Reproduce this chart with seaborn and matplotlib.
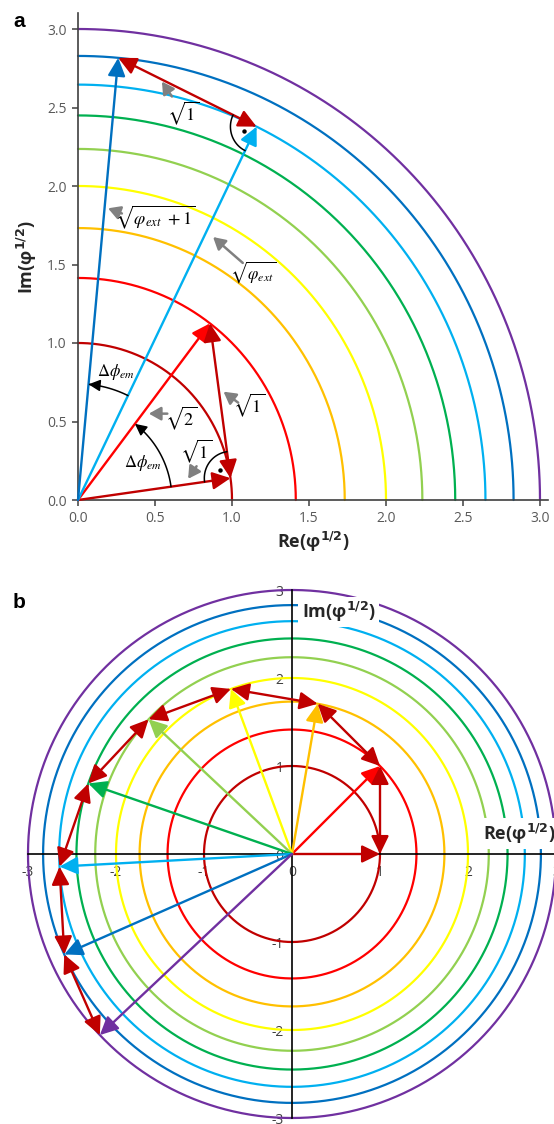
import numpy as np
import pandas as pd
import matplotlib
matplotlib.use("Agg")
import matplotlib.pyplot as plt
import seaborn as sns
from matplotlib.patches import FancyArrowPatch
from matplotlib.path import Path

# ---------------- data ----------------
ring_n = [1, 2, 3, 4, 5, 6, 7, 8, 9]              # |phi| values -> radius sqrt(n)
ring_colors = ["#C00000", "#FF0000", "#FFC000", "#FFFF00", "#92D050",
               "#00B050", "#00B0F0", "#0070C0", "#7030A0"]
ticks_a = [0.0, 0.5, 1.0, 1.5, 2.0, 2.5, 3.0]
ticks_b = [-3, -2, -1, 0, 1, 2, 3]

# panel a: vectors (ring n, phase in degrees)
vec_a_n = [1, 2, 7, 8]
vec_a_phase = [8.0, 52.7, 64.0, 84.7]
# unit steps in panel a (from vector i to vector j)
steps_a = [(0, 1), (2, 3)]

# panel b: vectors (ring n, phase in degrees)
vec_b_n = [1, 2, 3, 4, 5, 6, 7, 8, 9]
vec_b_phase = [0.0, 45.0, 80.3, 110.3, 136.8, 160.9, 183.1, 203.8, 223.3]

# ---------------- style ----------------
sns.set_theme(style="white")
plt.rcParams["font.family"] = ["Open Sans", "DejaVu Sans"]
plt.rcParams["axes.linewidth"] = 1.2

W, H = 554, 1124
fig = plt.figure(figsize=(W / 100, H / 100), dpi=100)
fig.patch.set_facecolor("white")

palette = {str(n): c for n, c in zip(ring_n, ring_colors)}


def ring_frame(theta_deg):
    rows = []
    th = np.deg2rad(theta_deg)
    for n in ring_n:
        r = np.sqrt(n)
        rows.append(pd.DataFrame({"x": r * np.cos(th), "y": r * np.sin(th), "ring": str(n)}))
    return pd.concat(rows, ignore_index=True)


def tip(n, phase):
    r = np.sqrt(n)
    a = np.deg2rad(phase)
    return r * np.cos(a), r * np.sin(a)


def arrow(ax, p0, p1, color, style="-|>", lw=1.7, ms=14, hl=0.78, hw=0.38, z=5):
    st = f"{style},head_length={hl},head_width={hw}"
    a = FancyArrowPatch(p0, p1, arrowstyle=st, mutation_scale=ms, color=color,
                        lw=lw, shrinkA=0, shrinkB=0, zorder=z, clip_on=False)
    ax.add_patch(a)


def arc_arrow(ax, r, a0, a1, color="black"):
    t = np.deg2rad(np.linspace(a0, a1, 40))
    verts = np.column_stack([r * np.cos(t), r * np.sin(t)])
    path = Path(verts)
    a = FancyArrowPatch(path=path, arrowstyle="-|>,head_length=0.7,head_width=0.35",
                        mutation_scale=10, color=color, lw=1.1, zorder=6)
    ax.add_patch(a)


def right_angle(ax, c, r, a0, a1):
    t = np.deg2rad(np.linspace(a0, a1, 40))
    ax.plot(c[0] + r * np.cos(t), c[1] + r * np.sin(t), color="black", lw=1.1, zorder=6)
    am = np.deg2rad((a0 + a1) / 2)
    ax.plot(c[0] + 0.5 * r * np.cos(am), c[1] + 0.5 * r * np.sin(am), "o",
            color="black", ms=2.2, zorder=6)


# ================= panel a =================
ax = fig.add_axes([78 / W, (H - 500) / H, 3.05 * 154 / W, 3.1 * 157 / H])
df_a = ring_frame(np.linspace(0, 90, 300))
sns.lineplot(data=df_a, x="x", y="y", hue="ring", palette=palette, sort=False,
             estimator=None, legend=False, linewidth=1.6, ax=ax)
for ln in ax.lines:
    ln.set_clip_on(False)
ax.set_xlim(0, 3.05)
ax.set_ylim(0, 3.1)
ax.set_xticks(ticks_a)
ax.set_yticks(ticks_a)
ax.set_xticklabels([f"{v:.1f}" for v in ticks_a])
ax.set_yticklabels([f"{v:.1f}" for v in ticks_a])
for s in ["top", "right"]:
    ax.spines[s].set_visible(False)
for s in ["left", "bottom"]:
    ax.spines[s].set_color("#404040")
ax.tick_params(direction="out", length=4, width=1.1, color="#404040",
               labelsize=10, labelcolor="#595959", pad=4, left=True, bottom=True)
ax.set_xlabel(r"Re(φ$^{\mathbf{1/2}}$)", fontsize=13, fontweight="bold", color="#262626", labelpad=3)
ax.set_ylabel(r"Im(φ$^{\mathbf{1/2}}$)", fontsize=13, fontweight="bold", color="#262626", labelpad=6)

tips_a = [tip(n, p) for n, p in zip(vec_a_n, vec_a_phase)]
for (n, p), t in zip(zip(vec_a_n, vec_a_phase), tips_a):
    arrow(ax, (0, 0), t, ring_colors[n - 1])
for i, j in steps_a:
    arrow(ax, tips_a[i], tips_a[j], "#C00000", style="<|-|>", z=6)

# angle arcs
arc_arrow(ax, 0.61, vec_a_phase[0], vec_a_phase[1])
arc_arrow(ax, 0.74, vec_a_phase[2], vec_a_phase[3])

# right-angle marks
right_angle(ax, tips_a[0], 0.17, 97.8, 188.0)
right_angle(ax, tips_a[2], 0.17, 154.0, 244.0)

grey = "#808080"
mt = dict(math_fontfamily="stix", color="black", ha="center", va="center", zorder=7)
# annotations with grey pointer arrows
arrow(ax, (0.61, 2.57), (0.545, 2.665), grey, lw=1.8, ms=9, hl=0.8, hw=0.45)
ax.text(0.68, 2.46, r"$\sqrt{1}$", fontsize=13, **mt)
arrow(ax, (0.285, 1.825), (0.195, 1.858), grey, lw=1.8, ms=9, hl=0.8, hw=0.45)
ax.text(0.50, 1.80, r"$\sqrt{\varphi_{ext}\ +1}$", fontsize=13, **mt)
arrow(ax, (1.07, 1.51), (0.877, 1.675), grey, lw=1.8, ms=9, hl=0.8, hw=0.45)
ax.text(1.14, 1.45, r"$\sqrt{\varphi_{ext}}$", fontsize=12, **mt)
arrow(ax, (0.58, 0.55), (0.46, 0.55), grey, lw=1.8, ms=9, hl=0.8, hw=0.45)
ax.text(0.67, 0.52, r"$\sqrt{2}$", fontsize=13, **mt)
arrow(ax, (1.04, 0.62), (0.945, 0.69), grey, lw=1.8, ms=9, hl=0.8, hw=0.45)
ax.text(1.11, 0.60, r"$\sqrt{1}$", fontsize=13, **mt)
arrow(ax, (0.77, 0.215), (0.715, 0.135), grey, lw=1.8, ms=9, hl=0.8, hw=0.45)
ax.text(0.765, 0.31, r"$\sqrt{1}$", fontsize=13, **mt)
ax.text(0.42, 0.235, r"$\Delta\phi_{em}$", fontsize=12, **mt)
ax.text(0.245, 0.815, r"$\Delta\phi_{em}$", fontsize=12, **mt)

fig.text(13 / W, 1 - 27 / H, "a", fontsize=15, fontweight="bold",
         family=["Liberation Sans", "DejaVu Sans"], color="black")

# ================= panel b =================
bx = fig.add_axes([(292 - 3.2 * 88) / W, (H - 854 - 3.2 * 88) / H, 6.4 * 88 / W, 6.4 * 88 / H])
df_b = ring_frame(np.linspace(0, 360, 600))
sns.lineplot(data=df_b, x="x", y="y", hue="ring", palette=palette, sort=False,
             estimator=None, legend=False, linewidth=1.6, ax=bx)
bx.set_xlim(-3.2, 3.2)
bx.set_ylim(-3.2, 3.2)
bx.set_xlabel("")
bx.set_ylabel("")
for s in ["top", "right"]:
    bx.spines[s].set_visible(False)
for s in ["left", "bottom"]:
    bx.spines[s].set_position(("data", 0))
    bx.spines[s].set_bounds(-3, 3)
    bx.spines[s].set_color("black")
    bx.spines[s].set_linewidth(1.2)
    bx.spines[s].set_zorder(3)
bx.set_xticks(ticks_b)
bx.set_yticks(ticks_b)
bx.set_xticklabels([str(v) for v in ticks_b])
bx.set_yticklabels([str(v) for v in ticks_b])
bx.tick_params(length=0, labelsize=10, labelcolor="#404040")
bx.tick_params(axis="x", pad=8)
bx.tick_params(axis="y", pad=6)
bx.set_facecolor("none")

tips_b = [tip(n, p) for n, p in zip(vec_b_n, vec_b_phase)]
for (n, p), t in zip(zip(vec_b_n, vec_b_phase), tips_b):
    arrow(bx, (0, 0), t, ring_colors[n - 1])
for i in range(len(tips_b) - 1):
    arrow(bx, tips_b[i], tips_b[i + 1], "#C00000", style="<|-|>", z=6)

lbl = dict(fontsize=13, fontweight="bold", color="#262626", va="center", ha="left", zorder=8,
           bbox=dict(facecolor="white", edgecolor="none", pad=2.5))
bx.text(0.11, 2.75, r"Im(φ$^{\mathbf{1/2}}$)", **lbl)
bx.text(2.17, 0.23, r"Re(φ$^{\mathbf{1/2}}$)", **lbl)

fig.text(13 / W, 1 - 608 / H, "b", fontsize=15, fontweight="bold",
         family=["Liberation Sans", "DejaVu Sans"], color="black")

fig.savefig("out.png", dpi=100, facecolor="white")
